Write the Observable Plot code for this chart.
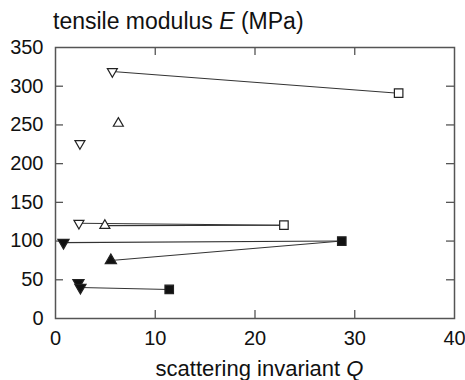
<!DOCTYPE html>
<html>
<head>
<meta charset="utf-8">
<script src="https://cdn.jsdelivr.net/npm/d3@7"></script>
<script src="https://cdn.jsdelivr.net/npm/@observablehq/plot@0.6"></script>
<style>
  body { margin: 0; background: #fff; }
  #chart svg { display: block; }
</style>
</head>
<body>
<div id="chart"></div>
<script>
// ---- data ----
const triQ      = [5.7, 6.3, 2.45, 2.35, 4.95, 0.8, 5.55, 2.3, 2.5];
const triE      = [319, 252, 226, 123, 120, 98, 75, 46, 40];
const triDir    = ["down", "up", "down", "down", "up", "down", "up", "down", "down"];
const triFilled = [false, false, false, false, false, true, true, true, true];
const sqQ       = [34.4, 22.9, 28.7, 11.4];
const sqE       = [291, 120.5, 100, 37.5];
const sqFilled  = [false, false, true, true];
// links: [triangle index, square index]
const links     = [[0, 0], [3, 1], [4, 1], [5, 2], [6, 2], [8, 3]];
const xTicks    = [0, 10, 20, 30, 40];
const yTicks    = [0, 50, 100, 150, 200, 250, 300, 350];
const titleParts = ["tensile modulus ", "E", " (MPa)"];
const xLabelParts = ["scattering invariant ", "Q"];

// ---- symbols ----
const triUp = {draw(ctx, size) {
  const r = Math.sqrt(size / Math.PI), h = r * Math.sqrt(3);
  ctx.moveTo(0, -2 * h / 3); ctx.lineTo(r, h / 3); ctx.lineTo(-r, h / 3); ctx.closePath();
}};
const triDown = {draw(ctx, size) {
  const r = Math.sqrt(size / Math.PI), h = r * Math.sqrt(3);
  ctx.moveTo(0, 2 * h / 3); ctx.lineTo(r, -h / 3); ctx.lineTo(-r, -h / 3); ctx.closePath();
}};
const sq = {draw(ctx, size) {
  const r = Math.sqrt(size / Math.PI) * 0.85;
  ctx.rect(-r, -r, 2 * r, 2 * r);
}};

const W = 465, H = 380, mL = 55, mR = 11, mT = 47, mB = 62;
const FW = W - mL - mR, FH = H - mT - mB, TK = 8;
const triIdx = triQ.map((_, i) => i);
const sqIdx = sqQ.map((_, i) => i);
const ink = "#222";

const triMark = (dir, filled) => Plot.dot(triIdx, {
  filter: i => triDir[i] === dir && triFilled[i] === filled,
  x: i => triQ[i], y: i => triE[i],
  symbol: dir === "up" ? triUp : triDown,
  r: filled ? 5.6 : 5, fill: filled ? "#111" : "white", stroke: ink, strokeWidth: 1.2
});
const sqMark = (filled) => Plot.dot(sqIdx, {
  filter: i => sqFilled[i] === filled,
  x: i => sqQ[i], y: i => sqE[i], symbol: sq,
  r: 5, fill: filled ? "#111" : "white", stroke: ink, strokeWidth: 1.2
});

const chart = Plot.plot({
  width: W, height: H,
  marginLeft: mL, marginRight: mR, marginTop: mT, marginBottom: mB,
  style: {fontFamily: "'Liberation Sans', Arial, sans-serif", fontSize: "20px", color: "#111", background: "white"},
  x: {domain: [0, 40]},
  y: {domain: [0, 350]},
  marks: [
    Plot.axisX(xTicks, {tickSize: 0, tickPadding: 12, label: null, fontSize: 20}),
    Plot.axisY(yTicks, {tickSize: 0, tickPadding: 12, label: null, fontSize: 20}),
    // inward ticks
    Plot.tickX(xTicks.slice(1, -1), {x: d => d, insetTop: FH - TK, stroke: "#555", strokeWidth: 1.3}),
    Plot.tickX(xTicks.slice(1, -1), {x: d => d, insetBottom: FH - TK, stroke: "#555", strokeWidth: 1.3}),
    Plot.tickY(yTicks.slice(1, -1), {y: d => d, insetRight: FW - TK, stroke: "#555", strokeWidth: 1.3}),
    Plot.tickY(yTicks.slice(1, -1), {y: d => d, insetLeft: FW - TK, stroke: "#555", strokeWidth: 1.3}),
    Plot.frame({stroke: "#555", strokeWidth: 1.5}),
    Plot.link(links, {
      x1: d => triQ[d[0]], y1: d => triE[d[0]],
      x2: d => sqQ[d[1]], y2: d => sqE[d[1]],
      stroke: "#333", strokeWidth: 1.1
    }),
    triMark("down", false), triMark("up", false),
    triMark("down", true), triMark("up", true),
    sqMark(false), sqMark(true)
  ]
});

const svg = d3.select(chart);
const t = svg.append("text").attr("x", 53).attr("y", 29)
  .attr("text-anchor", "start").attr("font-size", 23).attr("fill", "#111");
titleParts.forEach((p, i) => t.append("tspan").text(p).attr("font-style", i === 1 ? "italic" : null));
const xl = svg.append("text").attr("x", (mL + W - mR) / 2 + 5).attr("y", 376)
  .attr("text-anchor", "middle").attr("font-size", 22).attr("fill", "#111");
xLabelParts.forEach((p, i) => xl.append("tspan").text(p).attr("font-style", i === 1 ? "italic" : null));

document.getElementById("chart").appendChild(chart);
</script>
</body>
</html>
